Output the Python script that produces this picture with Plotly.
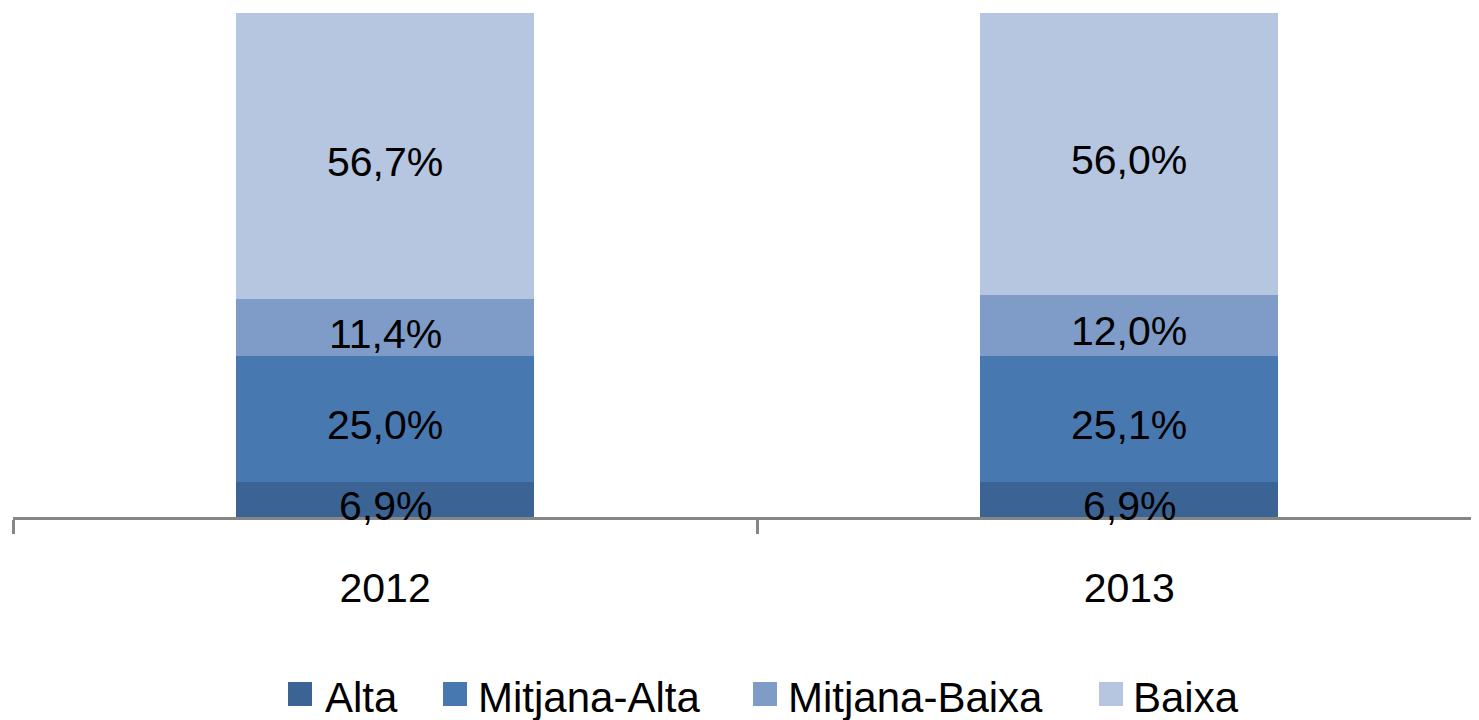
import plotly.graph_objects as go

years = ["2012", "2013"]
series_names = ["Alta", "Mitjana-Alta", "Mitjana-Baixa", "Baixa"]
alta = [6.9, 6.9]
mitjana_alta = [25.0, 25.1]
mitjana_baixa = [11.4, 12.0]
baixa = [56.7, 56.0]
series_values = [alta, mitjana_alta, mitjana_baixa, baixa]
colors = ["#3B6494", "#4878B0", "#7F9CC9", "#B6C5E0"]

FONT = "Liberation Sans, Arial, sans-serif"
OFF = 8  # page body margin
W_FIG, H_FIG = 1479 - OFF, 720 - OFF
L, T = 13 - OFF, 13 - OFF
PW, PH = W_FIG - L, 504

def fmt(v):
    return f"{v:.1f}".replace(".", ",") + "%"

fig = go.Figure()
annotations = []
base = [0.0] * len(years)
for name, vals, col in zip(series_names, series_values, colors):
    fig.add_trace(go.Bar(
        x=years, y=vals, name=name, marker=dict(color=col, line=dict(width=0)),
        showlegend=False, hoverinfo="skip",
    ))
    for i, v in enumerate(vals):
        annotations.append(dict(x=i, y=base[i] + v / 2, xref="x", yref="y",
                                text=fmt(v), showarrow=False, yshift=-6,
                                font=dict(family=FONT, size=41, color="black")))
        base[i] += v

def px(x):
    return (x - OFF - L) / PW

def py(y):
    return (T + PH - (y - OFF)) / PH

# custom legend (image pixel positions)
marker_x = [288, 443, 753, 1099]
text_x = [325, 478, 788, 1133]
shapes = []
for name, col, mx, tx in zip(series_names, colors, marker_x, text_x):
    shapes.append(dict(type="rect", xref="paper", yref="paper",
                       x0=px(mx), x1=px(mx + 24), y0=py(706), y1=py(682),
                       fillcolor=col, line=dict(width=0)))
    annotations.append(dict(xref="paper", yref="paper", x=px(tx - 2), y=py(697),
                            xanchor="left", yanchor="middle", showarrow=False,
                            text=name, font=dict(family=FONT, size=42, color="black")))

fig.update_layout(
    width=W_FIG, height=H_FIG,
    margin=dict(l=L, r=0, t=T, b=H_FIG - T - PH, pad=0),
    barmode="stack", bargap=0.6,
    plot_bgcolor="white", paper_bgcolor="white",
    font=dict(family=FONT, color="black"),
    shapes=shapes, annotations=annotations,
    xaxis=dict(type="category", range=[-0.5, 1.47], tickson="boundaries",
               ticks="outside", ticklen=14, tickwidth=3, tickcolor="#868686",
               showline=True, linecolor="#868686", linewidth=3,
               showgrid=False, zeroline=False,
               tickfont=dict(family=FONT, size=41, color="black"),
               ticklabelstandoff=33),
    yaxis=dict(range=[0, 100], visible=False, showgrid=False, zeroline=False),
)

fig.write_html("out.html")
